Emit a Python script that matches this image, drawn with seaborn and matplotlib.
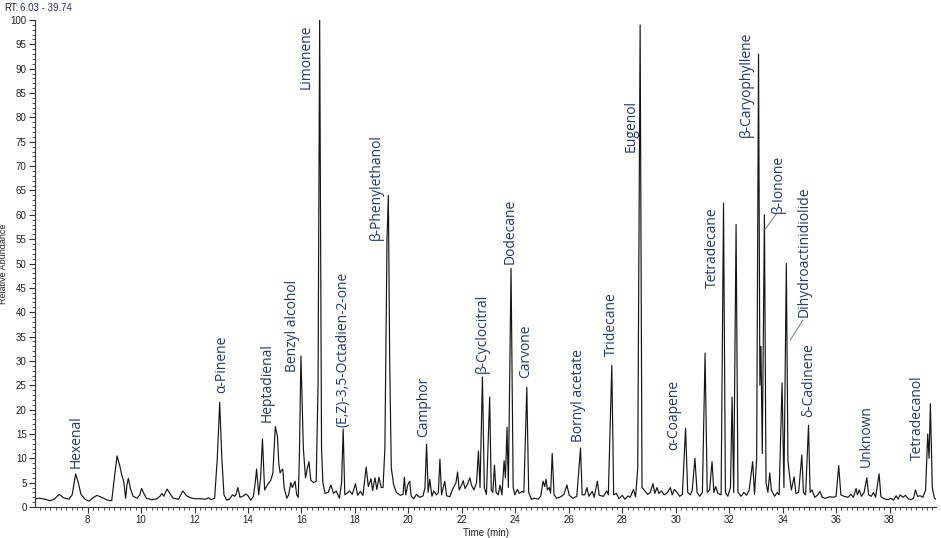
import pandas as pd
import matplotlib.pyplot as plt
import seaborn as sns
from matplotlib.ticker import MultipleLocator

# Chromatogram trace (retention time in min, relative abundance in %)
trace_06_13 = [
    (6.03, 1.7), (6.2, 1.8), (6.4, 1.6), (6.6, 1.3), (6.75, 1.6), (6.93, 2.6), (7.1, 1.9),
    (7.3, 1.6), (7.42, 2.5), (7.55, 6.8), (7.65, 5.0), (7.75, 2.6), (7.9, 1.6), (8.05, 1.2),
    (8.2, 1.9), (8.35, 2.4), (8.55, 1.9), (8.75, 1.4), (8.9, 1.3), (9.0, 6.0), (9.1, 10.5),
    (9.2, 8.5), (9.28, 6.5), (9.35, 5.2), (9.42, 1.8), (9.47, 4.5), (9.52, 5.9), (9.6, 3.8),
    (9.7, 2.2), (9.85, 1.8), (9.95, 2.5), (10.02, 3.8), (10.1, 2.8), (10.2, 1.8), (10.4, 1.5),
    (10.6, 1.7), (10.72, 2.3), (10.78, 2.8), (10.85, 2.2), (10.97, 3.7), (11.05, 3.0),
    (11.2, 1.8), (11.4, 1.6), (11.56, 3.3), (11.7, 2.3), (11.85, 1.9), (12.0, 1.7),
    (12.2, 1.7), (12.4, 1.6), (12.53, 1.9), (12.6, 1.5), (12.75, 1.8), (12.85, 10.0),
    (12.94, 21.5), (13.02, 10.0), (13.1, 2.5), (13.2, 1.4),
]
trace_13_17 = [
    (13.3, 1.6), (13.42, 2.5), (13.5, 2.2), (13.55, 2.6), (13.62, 4.0), (13.7, 2.0),
    (13.8, 2.2), (13.92, 2.7), (14.0, 2.3), (14.1, 1.4), (14.2, 2.2), (14.27, 5.0),
    (14.32, 7.8), (14.4, 2.5), (14.47, 6.0), (14.54, 14.0), (14.62, 3.5), (14.72, 4.5),
    (14.85, 5.5), (14.93, 7.0), (15.02, 16.5), (15.1, 14.5), (15.15, 9.0), (15.2, 7.0),
    (15.25, 7.5), (15.3, 7.8), (15.35, 4.0), (15.45, 1.8), (15.52, 2.5), (15.6, 5.0),
    (15.66, 4.0), (15.76, 5.3), (15.82, 2.5), (15.88, 2.0), (15.92, 10.0), (15.98, 31.0),
    (16.07, 12.0), (16.15, 6.0), (16.22, 8.0), (16.28, 9.3), (16.35, 5.5), (16.45, 5.0),
    (16.55, 5.3), (16.62, 25.0), (16.68, 100.0), (16.75, 12.0), (16.8, 5.0), (16.88, 2.8),
]
trace_17_22 = [
    (17.0, 3.0), (17.1, 4.5), (17.2, 2.8), (17.3, 3.3), (17.42, 1.8), (17.5, 5.0),
    (17.56, 16.0), (17.62, 2.5), (17.7, 2.8), (17.8, 3.3), (17.9, 2.6), (18.02, 4.8),
    (18.1, 2.4), (18.2, 3.2), (18.3, 2.4), (18.42, 8.2), (18.5, 4.2), (18.6, 5.8),
    (18.66, 3.4), (18.75, 6.0), (18.82, 3.6), (18.9, 6.1), (18.98, 4.0), (19.05, 4.0),
    (19.12, 12.0), (19.2, 55.0), (19.25, 64.0), (19.3, 30.0), (19.36, 8.0), (19.45, 4.5),
    (19.55, 3.0), (19.7, 2.4), (19.8, 2.6), (19.85, 6.1), (19.9, 2.5), (19.98, 4.6),
    (20.05, 5.3), (20.1, 2.3), (20.2, 1.7), (20.3, 2.6), (20.42, 2.0), (20.55, 2.3),
    (20.62, 4.0), (20.68, 12.9), (20.74, 3.0), (20.8, 5.7), (20.88, 2.2), (20.95, 3.3),
    (21.05, 2.5), (21.12, 3.0), (21.18, 9.8), (21.24, 2.5), (21.36, 5.3), (21.43, 2.3),
    (21.55, 2.1), (21.65, 3.6), (21.78, 5.0), (21.84, 7.2), (21.9, 3.5), (22.0, 4.6),
    (22.05, 5.4), (22.12, 3.8), (22.22, 4.8), (22.3, 6.0), (22.36, 4.5), (22.45, 3.5),
]
trace_22_28 = [
    (22.55, 5.0), (22.62, 11.5), (22.68, 4.0), (22.77, 26.7), (22.84, 4.0), (22.92, 2.6),
    (23.04, 22.6), (23.1, 3.5), (23.16, 3.0), (23.22, 8.6), (23.28, 3.0), (23.36, 2.5),
    (23.43, 4.5), (23.5, 2.5), (23.58, 9.5), (23.63, 6.0), (23.69, 16.4), (23.74, 4.0),
    (23.84, 49.0), (23.92, 4.0), (23.98, 2.5), (24.08, 3.6), (24.15, 2.8), (24.25, 3.2),
    (24.32, 3.0), (24.43, 24.6), (24.5, 3.0), (24.6, 1.6), (24.72, 1.8), (24.85, 1.6),
    (24.95, 2.2), (25.04, 5.3), (25.1, 4.2), (25.15, 5.7), (25.2, 3.5), (25.27, 4.0),
    (25.32, 2.8), (25.38, 11.0), (25.45, 2.5), (25.55, 1.8), (25.7, 2.1), (25.82, 2.6),
    (25.93, 4.5), (26.02, 2.4), (26.15, 1.8), (26.3, 2.2), (26.44, 12.1), (26.5, 2.5),
    (26.6, 2.5), (26.68, 4.0), (26.75, 2.2), (26.88, 3.2), (26.95, 2.0), (27.07, 5.3),
    (27.14, 2.4), (27.3, 2.2), (27.42, 3.3), (27.48, 2.5), (27.61, 29.1), (27.68, 2.5),
    (27.78, 2.8), (27.88, 1.7), (28.0, 2.4),
]
trace_28_33 = [
    (28.1, 1.6), (28.22, 2.3), (28.3, 2.0), (28.42, 3.6), (28.5, 2.1), (28.58, 8.0),
    (28.67, 99.0), (28.74, 4.0), (28.85, 3.3), (28.95, 2.6), (29.05, 3.0), (29.15, 4.8),
    (29.22, 2.8), (29.3, 4.0), (29.37, 2.8), (29.47, 3.3), (29.57, 2.5), (29.7, 3.0),
    (29.8, 4.0), (29.87, 2.5), (29.95, 3.6), (30.05, 3.0), (30.15, 2.2), (30.25, 2.6),
    (30.37, 16.2), (30.45, 3.0), (30.55, 2.5), (30.62, 3.5), (30.72, 10.0), (30.8, 3.0),
    (30.9, 2.2), (31.0, 3.0), (31.1, 31.6), (31.18, 3.0), (31.27, 3.5), (31.36, 9.3),
    (31.43, 3.0), (31.5, 4.2), (31.58, 2.8), (31.7, 2.5), (31.79, 62.4), (31.86, 3.0),
    (31.95, 2.2), (32.05, 4.0), (32.11, 22.6), (32.17, 3.0), (32.26, 58.0), (32.33, 3.0),
    (32.45, 2.2), (32.55, 3.0), (32.65, 2.4), (32.75, 3.5), (32.88, 9.3), (32.95, 2.6),
    (33.03, 10.0),
]
trace_33_40 = [
    (33.1, 93.0), (33.15, 25.0), (33.19, 33.0), (33.24, 11.0), (33.32, 60.0), (33.38, 5.0),
    (33.45, 3.0), (33.52, 7.0), (33.58, 3.5), (33.7, 2.2), (33.8, 3.0), (33.87, 2.5),
    (33.98, 25.5), (34.05, 4.0), (34.14, 50.0), (34.2, 9.6), (34.27, 6.0), (34.33, 3.5),
    (34.43, 6.2), (34.5, 2.8), (34.6, 3.0), (34.72, 10.7), (34.78, 3.0), (34.86, 2.5),
    (34.97, 16.8), (35.03, 3.0), (35.1, 3.5), (35.2, 2.0), (35.3, 2.4), (35.4, 3.2),
    (35.48, 2.0), (35.6, 1.8), (35.75, 2.1), (35.9, 2.0), (36.0, 2.2), (36.1, 8.5),
    (36.18, 2.5), (36.3, 2.2), (36.45, 2.0), (36.55, 2.6), (36.65, 2.0), (36.75, 3.8),
    (36.8, 2.5), (36.87, 3.5), (36.95, 2.2), (37.05, 3.0), (37.15, 6.0), (37.22, 2.5),
    (37.32, 2.2), (37.4, 3.0), (37.48, 2.0), (37.61, 6.8), (37.68, 2.1), (37.8, 1.7),
    (37.95, 1.5), (38.05, 1.8), (38.15, 1.4), (38.25, 2.3), (38.32, 1.6), (38.4, 2.5),
    (38.5, 2.0), (38.6, 2.4), (38.7, 1.7), (38.8, 1.5), (38.9, 1.8), (38.97, 3.5),
    (39.05, 2.2), (39.15, 2.3), (39.25, 2.0), (39.35, 3.5), (39.43, 15.0), (39.48, 10.0),
    (39.53, 21.2), (39.6, 4.0), (39.68, 1.8), (39.74, 1.6),
]

# Compound labels: name, label x (min), label base (abundance)
label_names = ['Hexenal', 'α-Pinene', 'Heptadienal', 'Benzyl alcohol', 'Limonene',
               '(E,Z)-3,5-Octadien-2-one', 'β-Phenylethanol', 'Camphor', 'β-Cyclocitral',
               'Dodecane', 'Carvone', 'Bornyl acetate', 'Tridecane', 'Eugenol', 'α-Coapene',
               'Tetradecane', 'β-Caryophyllene', 'β-Ionone', 'Dihydroactinidiolide',
               'δ-Cadinene', 'Unknown', 'Tetradecanol']
label_rt = [7.55, 13.02, 14.7, 15.65, 16.18, 17.57, 18.81, 20.56, 22.77, 23.8, 24.4, 26.36,
            27.59, 28.34, 29.93, 31.36, 32.63, 33.86, 34.82, 34.99, 37.12, 39.03]
label_base = [8.0, 23.4, 17.5, 27.8, 85.8, 16.5, 54.8, 14.4, 27.5, 50.0, 26.4, 13.4,
              31.0, 73.0, 11.7, 45.0, 76.0, 60.4, 39.0, 18.5, 8.3, 9.6]

# leader lines (label -> peak)
leaders = {
    'β-Ionone': ((33.79, 33.33), (60.4, 56.9)),
    'Dihydroactinidiolide': ((34.76, 34.29), (38.4, 34.3)),
}

segments = [trace_06_13, trace_13_17, trace_17_22, trace_22_28, trace_28_33, trace_33_40]
df = pd.DataFrame([p for seg in segments for p in seg], columns=['rt', 'abundance'])

sns.set_style('ticks')
plt.rcParams['font.family'] = ['Liberation Sans', 'DejaVu Sans']

fig = plt.figure(figsize=(9.41, 5.38), dpi=100)
ax = fig.add_axes([0.0372, 0.0576, 0.9575, 0.9052])

sns.lineplot(data=df, x='rt', y='abundance', color='#151515', linewidth=0.85,
             estimator=None, sort=False, ax=ax)

label_color = '#22396a'
for name, t, y in zip(label_names, label_rt, label_base):
    ax.text(t, y, name, rotation=90, ha='center', va='bottom', fontsize=10,
            color=label_color, family=['Open Sans', 'DejaVu Sans'])
for xs, ys in leaders.values():
    ax.plot(xs, ys, color='#6a7a90', linewidth=0.7)

ax.set_xlim(6.03, 39.74)
ax.set_ylim(0, 100)
ax.xaxis.set_minor_locator(MultipleLocator(0.2))
ax.yaxis.set_major_locator(MultipleLocator(5))
ax.yaxis.set_minor_locator(MultipleLocator(1))
ax.set_xticks(range(8, 40, 2))
ax.tick_params(axis='both', which='major', length=4, width=0.8, labelsize=7, color='#333333',
               labelcolor='#222222', pad=2)
ax.tick_params(axis='both', which='minor', length=2, width=0.6, color='#333333')
for s in ['left', 'bottom']:
    ax.spines[s].set_color('#333333')
    ax.spines[s].set_linewidth(0.8)
sns.despine(ax=ax)

ax.set_xlabel('Time (min)', fontsize=7, color='#222222', labelpad=2)
ax.set_ylabel('Relative Abundance', fontsize=6.5, color='#222222')
ax.yaxis.set_label_coords(-0.03, 0.5)

fig.text(0.004, 0.994, 'RT:', fontsize=7, color='#222222', va='top', ha='left')
fig.text(0.021, 0.994, '6.03 - 39.74', fontsize=7, color='#2b2f72', va='top', ha='left')

fig.savefig('out.png', dpi=100)
